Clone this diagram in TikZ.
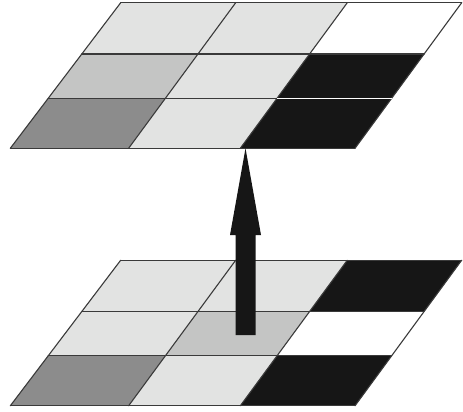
\documentclass[tikz,border=0pt]{standalone}
\usetikzlibrary{calc}
\definecolor{lgray}{HTML}{E2E3E2}
\definecolor{mgray}{HTML}{C4C5C4}
\definecolor{dgray}{HTML}{8C8C8C}
\definecolor{blk}{HTML}{161616}
\definecolor{edge}{HTML}{3A3A3A}
\newcommand\gcell[4]{%
  \pgfmathtruncatemacro\ni{#2+1}\pgfmathtruncatemacro\nj{#3+1}%
  \fill[#4] (#1#2#3) -- (#1\ni#3) -- (#1\ni\nj) -- (#1#2\nj) -- cycle;}
\begin{document}
\begin{tikzpicture}[x=1pt,y=-1pt,
  gridline/.style={draw=edge,line width=1.1pt,line cap=round},
  gapline/.style={draw=white,line width=1.1pt},
  arrowfill/.style={fill=blk}]
\useasboundingbox (0,0) rectangle (463,412);
\foreach \i/\a/\b in {0/120.7/10.3,1/235.7/128.6,2/347.3/240.3,3/461.7/355}{
  \foreach \j/\f in {0/0,1/0.352,2/0.657,3/1}{
    \coordinate (T\i\j) at ({\a+(\b-\a)*\f},{2.7+145.6*\f});
    \coordinate (B\i\j) at ({\a+(\b-\a)*\f},{260.2+145.6*\f});
  }
}
% top grid cells
\gcell{T}{0}{0}{lgray}\gcell{T}{1}{0}{lgray}\gcell{T}{2}{0}{white}
\gcell{T}{0}{1}{mgray}\gcell{T}{1}{1}{lgray}\gcell{T}{2}{1}{blk}
\gcell{T}{0}{2}{dgray}\gcell{T}{1}{2}{lgray}\gcell{T}{2}{2}{blk}
% bottom grid cells
\gcell{B}{0}{0}{lgray}\gcell{B}{1}{0}{lgray}\gcell{B}{2}{0}{blk}
\gcell{B}{0}{1}{lgray}\gcell{B}{1}{1}{mgray}\gcell{B}{2}{1}{white}
\gcell{B}{0}{2}{dgray}\gcell{B}{1}{2}{lgray}\gcell{B}{2}{2}{blk}
% grid lines
\foreach \g in {T,B}{
  \foreach \k in {0,1,2,3}{
    \draw[gridline] (\g0\k) -- (\g3\k);
    \draw[gridline] (\g\k0) -- (\g\k3);
  }
}
\draw[gapline] (T22) -- (T32);
% arrow
\coordinate (tip) at (245.5,148.3);
\coordinate (foot) at (245.5,335);
\fill[arrowfill] ($(foot)+(-10,0)$) -- ($(foot)+(10,0)$) -- ($(tip)+(10,86.7)$)
  -- ($(tip)+(15.5,86.7)$) -- (tip) -- ($(tip)+(-15.5,86.7)$) -- ($(tip)+(-10,86.7)$) -- cycle;
\end{tikzpicture}
\end{document}
